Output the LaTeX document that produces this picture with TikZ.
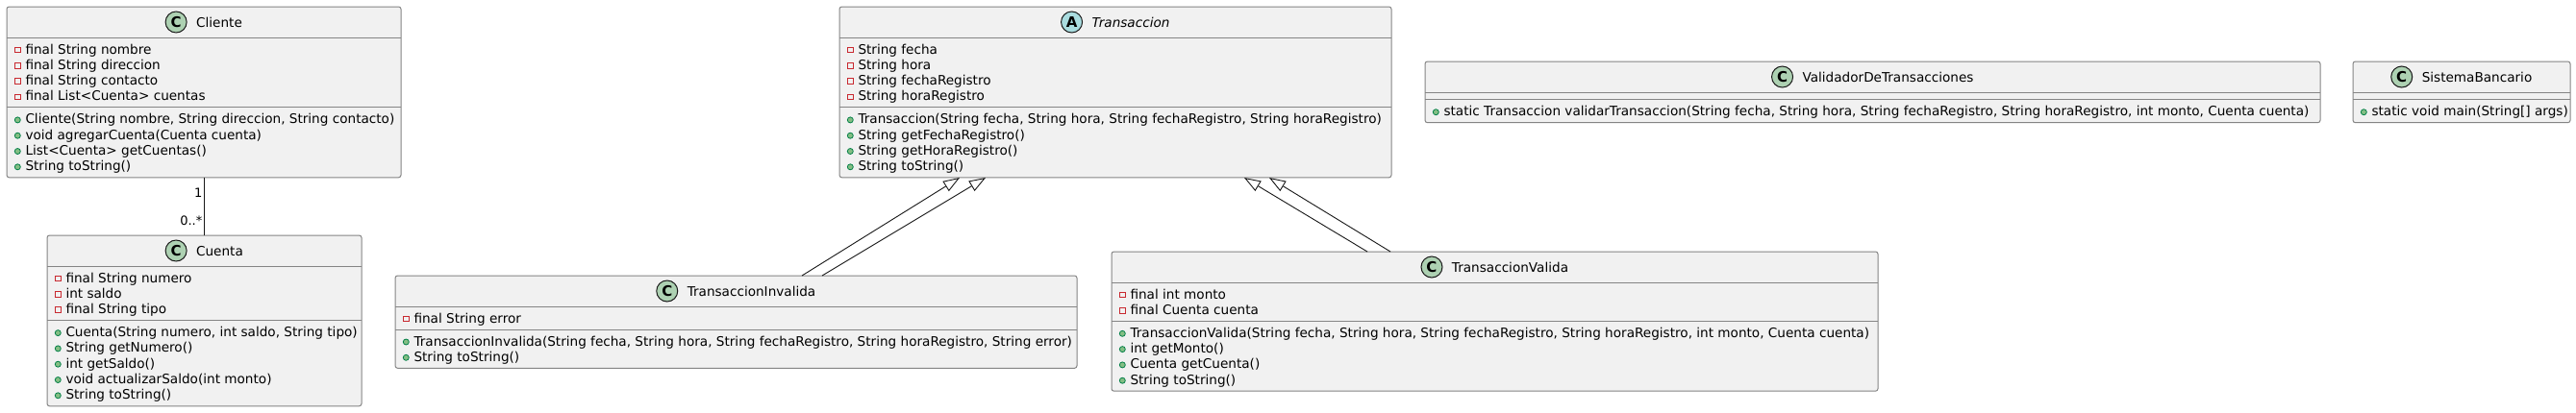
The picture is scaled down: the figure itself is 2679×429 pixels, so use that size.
\documentclass[tikz,border=0pt]{standalone}
\usepackage{fontspec}
\setmainfont{DejaVu Sans}
\usetikzlibrary{arrows.meta,calc}
\definecolor{boxfill}{HTML}{F1F1F1}
\definecolor{boxline}{HTML}{858585}
\definecolor{iconC}{HTML}{ADD1B2}
\definecolor{iconA}{HTML}{A9DCDF}
\definecolor{privred}{HTML}{C82930}
\definecolor{pubfill}{HTML}{84BE84}
\definecolor{publine}{HTML}{038048}
\definecolor{edgecol}{HTML}{181818}
\tikzset{
  classbox/.style={rectangle, draw=boxline, fill=boxfill, line width=1pt, rounded corners=2.5pt, inner sep=0pt, outer sep=0pt},
  sepline/.style={draw=boxline, line width=1pt},
  memtext/.style={font=\fontsize{13.6}{16}\selectfont, inner sep=0pt, outer sep=0pt, anchor=base west, text=black},
  headtext/.style={font=\fontsize{13.6}{16}\selectfont, inner sep=0pt, outer sep=0pt, anchor=base},
  iconcirc/.style={circle, draw=edgecol, line width=1pt, minimum size=22pt, inner sep=0pt},
  iconletter/.style={font=\fontsize{15}{15}\selectfont\bfseries, inner sep=0pt},
  privicon/.style={rectangle, draw=privred, line width=1pt, minimum size=5.5pt, inner sep=0pt},
  pubicon/.style={circle, draw=publine, fill=pubfill, line width=0.8pt, minimum size=6pt, inner sep=0pt},
  assoc/.style={draw=edgecol, line width=0.9pt},
  inherit/.style={draw=edgecol, line width=0.9pt, -{Triangle[open, length=17pt, width=12pt]}},
  lbl/.style={font=\fontsize{13}{13}\selectfont, inner sep=0pt, anchor=base east},
}
% #1 id, #2 left, #3 top, #4 right, #5 number of attributes, #6 number of methods
\newcommand\classbox[6]{%
  \pgfmathsetmacro\cbA{#3+32}%
  \pgfmathsetmacro\cbB{\cbA+7.7+16.3*#5}%
  \pgfmathsetmacro\cbE{\cbB+7.7+16.3*#6}%
  \pgfmathsetmacro\cbW{#4-#2}%
  \pgfmathsetmacro\cbH{\cbE-#3}%
  \node[classbox, minimum width=\cbW pt, minimum height=\cbH pt, anchor=north west] (#1) at (#2,#3) {};
  \draw[sepline] (#2,\cbA) -- (#4,\cbA);
  \draw[sepline] (#2,\cbB) -- (#4,\cbB);
}
% #1 id, #2 center x, #3 center y, #4 icon colour, #5 letter, #6 name
\newcommand\classhead[6]{%
  \node[headtext] (#1) at ({#2+16},{#3+5}) {#6};
  \node[iconcirc, fill=#4] (#1-icon) at ($(#1.base west)+(-21,-5)$) {};
  \node[iconletter] (#1-letter) at (#1-icon) {#5};
}
% #1 id, #2 left, #3 first line centre, #4 kind (priv/pub), #5 list
\newcommand\members[5]{%
  \foreach \mt [count=\mi from 0] in {#5} {%
    \pgfmathsetmacro\my{#3+16.3*\mi}%
    \node[memtext] (#1-\mi) at ({#2+19.5},{\my+5}) {\mt};
    \node[#4icon] (#1-\mi i) at ({#2+11.3},{\my+1}) {};
  }%
}
\begin{document}
\begin{tikzpicture}[x=1pt,y=-1pt]
\useasboundingbox (0,0) rectangle (2679,429);
\fill[white] (0,0) rectangle (2679,429);

% Cliente
\classbox{cliente}{7}{7}{417}{4}{4}
\classhead{cliente-name}{212}{23}{iconC}{C}{Cliente}
\members{cliente-a}{7}{\cbA+12}{priv}{{final String nombre},{final String direccion},{final String contacto},{final List<Cuenta> cuentas}}
\members{cliente-m}{7}{\cbB+12}{pub}{{Cliente(String nombre, String direccion, String contacto)},{void agregarCuenta(Cuenta cuenta)},{List<Cuenta> getCuentas()},{String toString()}}

% Cuenta
\classbox{cuenta}{49}{245}{376}{3}{5}
\classhead{cuenta-name}{212.5}{261}{iconC}{C}{Cuenta}
\members{cuenta-a}{49}{\cbA+12}{priv}{{final String numero},{int saldo},{final String tipo}}
\members{cuenta-m}{49}{\cbB+12}{pub}{{Cuenta(String numero, int saldo, String tipo)},{String getNumero()},{int getSaldo()},{void actualizarSaldo(int monto)},{String toString()}}

% Transaccion
\classbox{trans}{873}{7}{1447}{4}{4}
\classhead{trans-name}{1160}{23}{iconA}{A}{\textit{Transaccion}}
\members{trans-a}{873}{\cbA+12}{priv}{{String fecha},{String hora},{String fechaRegistro},{String horaRegistro}}
\members{trans-m}{873}{\cbB+12}{pub}{{Transaccion(String fecha, String hora, String fechaRegistro, String horaRegistro)},{String getFechaRegistro()},{String getHoraRegistro()},{String toString()}}

% TransaccionInvalida
\classbox{tinv}{411}{287}{1120}{1}{2}
\classhead{tinv-name}{765.5}{303}{iconC}{C}{TransaccionInvalida}
\members{tinv-a}{411}{\cbA+12}{priv}{{final String error}}
\members{tinv-m}{411}{\cbB+12}{pub}{{TransaccionInvalida(String fecha, String hora, String fechaRegistro, String horaRegistro, String error)},{String toString()}}

% TransaccionValida
\classbox{tval}{1156}{262}{1953}{2}{4}
\classhead{tval-name}{1554.5}{278}{iconC}{C}{TransaccionValida}
\members{tval-a}{1156}{\cbA+12}{priv}{{final int monto},{final Cuenta cuenta}}
\members{tval-m}{1156}{\cbB+12}{pub}{{TransaccionValida(String fecha, String hora, String fechaRegistro, String horaRegistro, int monto, Cuenta cuenta)},{int getMonto()},{Cuenta getCuenta()},{String toString()}}

% ValidadorDeTransacciones
\classbox{valid}{1482}{64}{2413}{0}{1}
\classhead{valid-name}{1947.5}{80}{iconC}{C}{ValidadorDeTransacciones}
\members{valid-m}{1482}{\cbB+12}{pub}{{static Transaccion validarTransaccion(String fecha, String hora, String fechaRegistro, String horaRegistro, int monto, Cuenta cuenta)}}

% SistemaBancario
\classbox{sist}{2447}{64}{2673}{0}{1}
\classhead{sist-name}{2560}{80}{iconC}{C}{SistemaBancario}
\members{sist-m}{2447}{\cbB+12}{pub}{{static void main(String[] args)}}

% association Cliente -- Cuenta
\draw[assoc] (cliente.south) -- (cliente.south |- cuenta.north);
\node[lbl] (mult1) at (210.5,205) {1};
\node[lbl] (mult2) at (210.5,234) {0..*};

% inheritance
\coordinate (ti-s1) at (834,287);
\coordinate (ti-s2) at (855,287);
\coordinate (tr-t1) at (998,185);
\coordinate (tr-t2) at (1025,185);
\coordinate (tv-s1) at (1422,262);
\coordinate (tv-s2) at (1446,262);
\coordinate (tr-t3) at (1294,185);
\coordinate (tr-t4) at (1320,185);
\draw[inherit] (ti-s1) -- (tr-t1);
\draw[inherit] (ti-s2) -- (tr-t2);
\draw[inherit] (tv-s1) -- (tr-t3);
\draw[inherit] (tv-s2) -- (tr-t4);
\end{tikzpicture}
\end{document}
